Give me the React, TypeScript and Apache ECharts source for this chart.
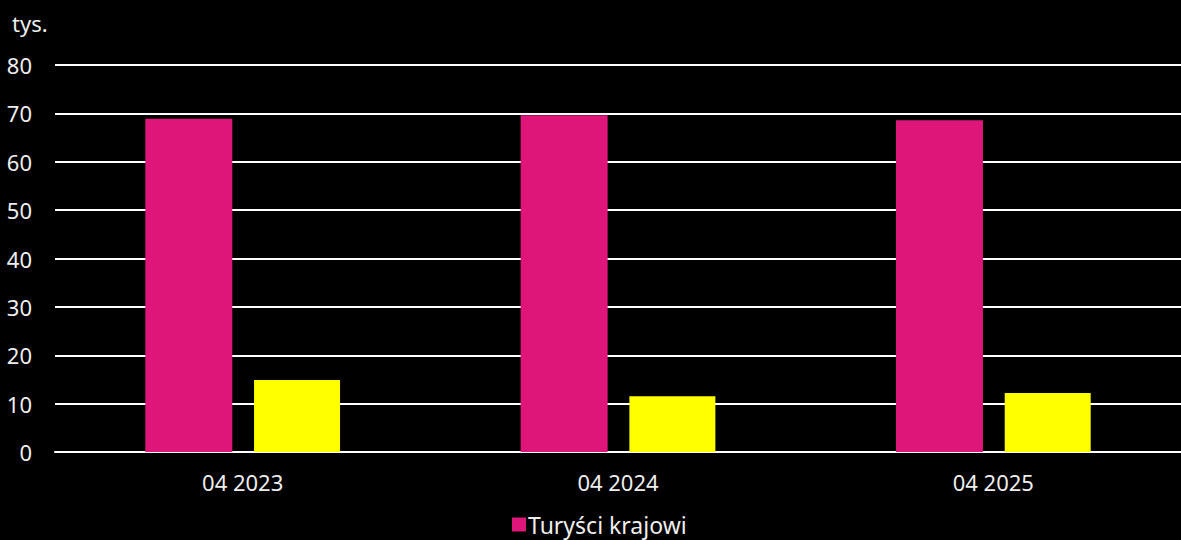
import React, { useEffect, useRef } from "react";
import * as echarts from "echarts";

const categories = ["04 2023", "04 2024", "04 2025"];
const domestic = [68.9, 69.6, 68.6];
const foreign = [14.9, 11.5, 12.2];
const seriesNames = ["Turyści krajowi", "Turyści zagraniczni"];
const unitLabel = "tys.";

const TEXT = "#eeeeee";
const FONT = "'Noto Sans', sans-serif";

export default function App() {
  const ref = useRef<HTMLDivElement>(null);
  useEffect(() => {
    document.body.style.margin = "0";
    document.body.style.background = "#000";
    const chart = echarts.init(ref.current!, null, { renderer: "svg" });
    chart.setOption({
      animation: false,
      backgroundColor: "#000000",
      textStyle: { fontFamily: FONT, color: TEXT },
      grid: { left: 55, right: 0, top: 65, bottom: 88, containLabel: false },
      graphic: [
        {
          type: "text",
          left: 12,
          top: 12,
          style: { text: unitLabel, fill: TEXT, font: `22px ${FONT}` },
        },
      ],
      legend: {
        data: [seriesNames[0]],
        left: 507,
        top: 508,
        icon: "rect",
        itemWidth: 14,
        itemHeight: 14,
        itemGap: 4,
        textStyle: { color: TEXT, fontSize: 23, fontFamily: FONT, padding: [0, 0, 0, -3] },
      },
      xAxis: {
        type: "category",
        data: categories,
        axisLine: { show: true, lineStyle: { color: "#ffffff", width: 2 } },
        axisTick: { show: false },
        axisLabel: { color: TEXT, fontSize: 22, fontFamily: FONT, margin: 19 },
      },
      yAxis: {
        type: "value",
        min: 0,
        max: 80,
        interval: 10,
        axisLine: { show: false },
        axisTick: { show: false },
        axisLabel: { color: TEXT, fontSize: 22, fontFamily: FONT, margin: 23 },
        splitLine: { lineStyle: { color: "#ffffff", width: 2 } },
      },
      series: [
        {
          name: seriesNames[0],
          type: "bar",
          data: domestic,
          barWidth: 87,
          barGap: "25%",
          itemStyle: { color: "#DF1679" },
        },
        {
          name: seriesNames[1],
          type: "bar",
          data: foreign,
          barWidth: 86,
          barGap: "25%",
          itemStyle: { color: "#FFFF00" },
        },
      ],
    });
    return () => chart.dispose();
  }, []);
  return <div ref={ref} style={{ width: 1181, height: 540 }} />;
}
